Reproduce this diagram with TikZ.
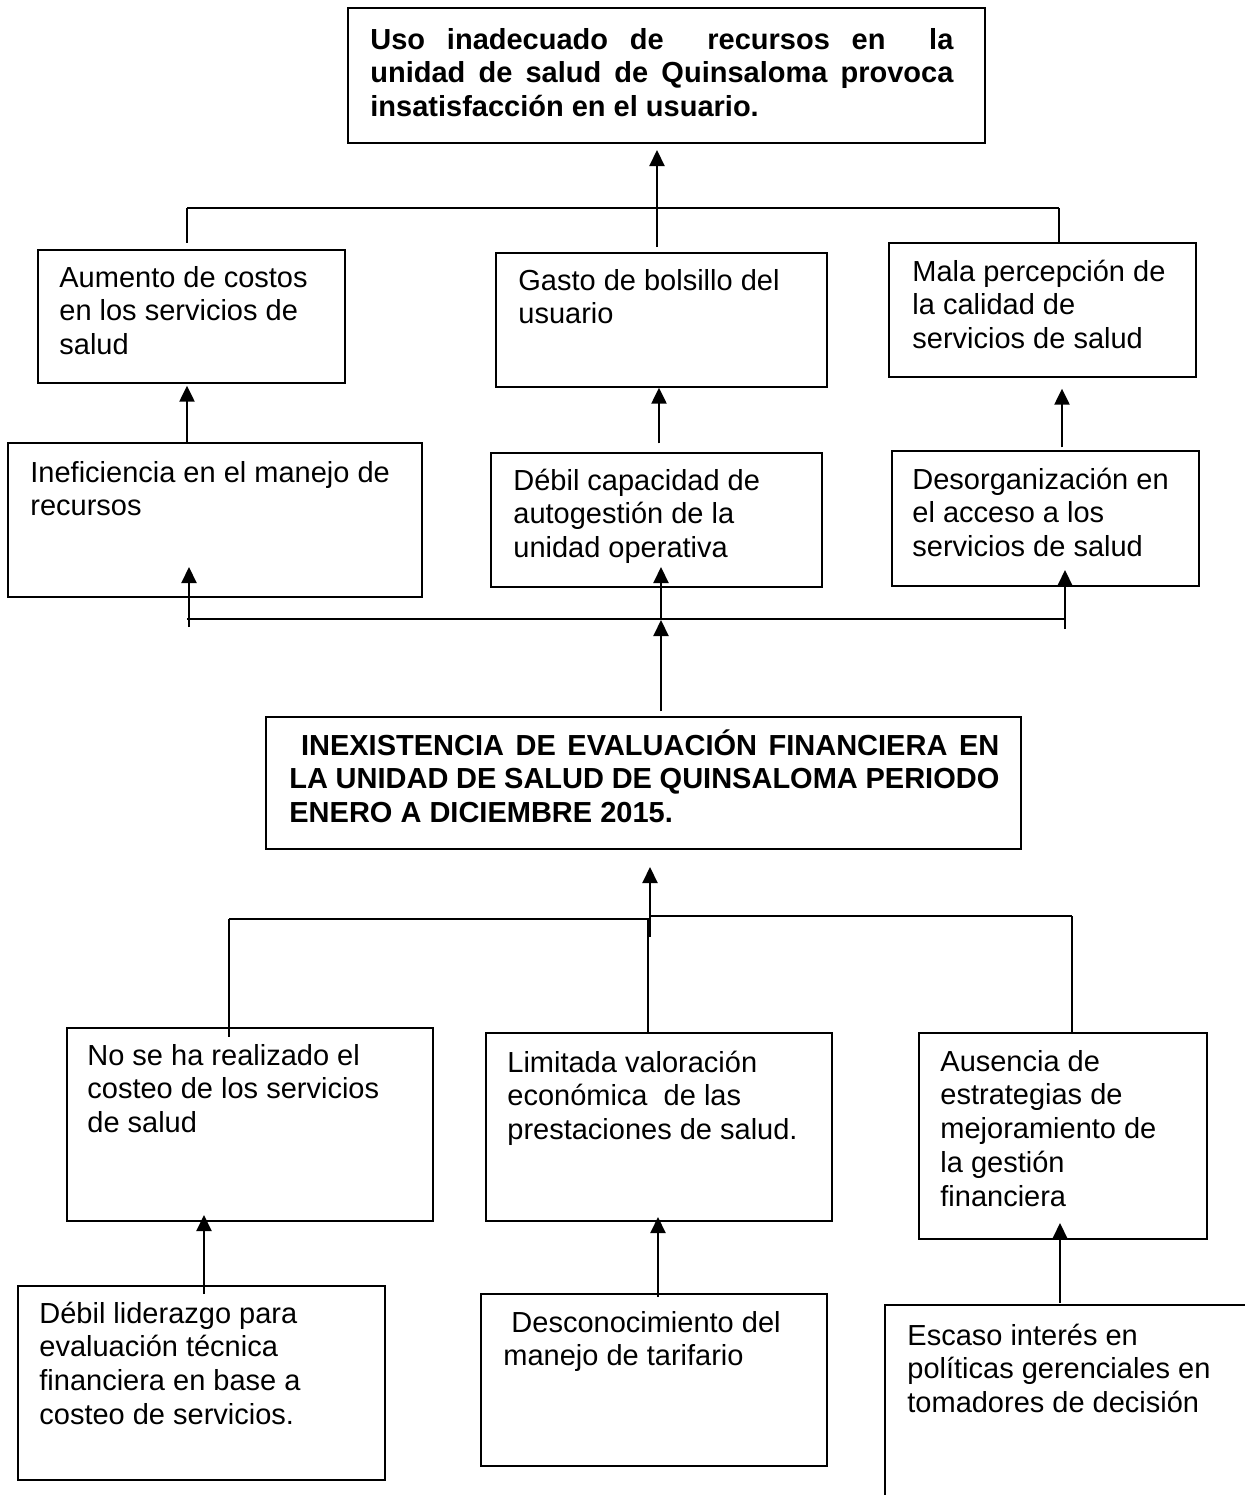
\documentclass[tikz,border=0pt]{standalone}
\usepackage{fontspec}
\setmainfont{Liberation Sans}
\usetikzlibrary{arrows.meta,calc,fit}
\newcommand{\boxtxt}[1]{\parbox[t]{330pt}{\raggedright #1}}
\begin{document}
\begin{tikzpicture}[x=0.5pt,y=-0.5pt,
  boxline/.style={draw, line width=0.65pt, inner sep=0pt},
  txt/.style={inner sep=0pt, anchor=base west, font={\fontsize{14.5pt}{16.9pt}\selectfont}},
  btxt/.style={txt, font={\fontsize{14.5pt}{16.9pt}\selectfont\bfseries}},
  bus/.style={line width=0.6pt},
  arr/.style={line width=1.1pt, -{Triangle[width=7.5pt,length=8pt]}},
]
\useasboundingbox (0,0) rectangle (1245,1495);
\clip (0,0) rectangle (1245,1495);
\fill[white] (0,0) rectangle (1245,1495);

% ---------- boxes ----------
\node[boxline, fit={(348,8) (985,143)}] (B0) {};
\node[boxline, fit={(38,250) (345,383)}] (A1) {};
\node[boxline, fit={(496,253) (827,387)}] (A2) {};
\node[boxline, fit={(889,243) (1196,377)}] (A3) {};
\node[boxline, fit={(8,443) (422,597)}] (B1) {};
\node[boxline, fit={(491,453) (822,587)}] (B2) {};
\node[boxline, fit={(892,451) (1199,586)}] (B3) {};
\node[boxline, fit={(266,717) (1021,849)}] (M) {};
\node[boxline, fit={(67,1028) (433,1221)}] (C1) {};
\node[boxline, fit={(486,1033) (832,1221)}] (C2) {};
\node[boxline, fit={(919,1033) (1207,1239)}] (C3) {};
\node[boxline, fit={(18,1286) (385,1480)}] (D1) {};
\node[boxline, fit={(481,1294) (827,1466)}] (D2) {};
\node[boxline, fit={(885,1305) (1300,1560)}] (D3) {};

% ---------- texts ----------
\node[btxt] (tB0) at (370,49) {\boxtxt{%
  \makebox[291.5pt][s]{Uso inadecuado de\ \ recursos en\ \ la}\\
  \makebox[291.5pt][s]{unidad de salud de Quinsaloma provoca}\\
  insatisfacción en el usuario.}};
\node[txt] (tA1) at (59,287) {\boxtxt{Aumento de costos\\en los servicios de\\salud}};
\node[txt] (tA2) at (518,290) {\boxtxt{Gasto de bolsillo del\\usuario}};
\node[txt] (tA3) at (912,281) {\boxtxt{Mala percepción de\\la calidad de\\servicios de salud}};
\node[txt] (tB1) at (30,482) {\boxtxt{Ineficiencia en el manejo de\\recursos}};
\node[txt] (tB2) at (513,490) {\boxtxt{Débil capacidad de\\autogestión de la\\unidad operativa}};
\node[txt] (tB3) at (912,489) {\boxtxt{Desorganización en\\el acceso a los\\servicios de salud}};
\node[btxt] (tM) at (289,755) {\boxtxt{%
  \makebox[355pt][s]{\ INEXISTENCIA DE EVALUACIÓN FINANCIERA EN}\\
  \makebox[355pt][s]{LA UNIDAD DE SALUD DE QUINSALOMA PERIODO}\\
  ENERO A DICIEMBRE 2015.}};
\node[txt] (tC1) at (87,1065) {\boxtxt{No se ha realizado el\\costeo de los servicios\\de salud}};
\node[txt] (tC2) at (507,1072) {\boxtxt{Limitada valoración\\económica\ \ de las\\prestaciones de salud.}};
\node[txt] (tC3) at (940,1071) {\boxtxt{Ausencia de\\estrategias de\\mejoramiento de\\la gestión\\financiera}};
\node[txt] (tD1) at (39,1323) {\boxtxt{Débil liderazgo para\\evaluación técnica\\financiera en base a\\costeo de servicios.}};
\node[txt] (tD2) at (503,1332) {\boxtxt{\ Desconocimiento del\\manejo de tarifario}};
\node[txt] (tD3) at (907,1345) {\boxtxt{Escaso interés en\\políticas gerenciales en\\tomadores de decisión}};

% ---------- connector points ----------
\coordinate (b1L) at (187,208);
\coordinate (b1R) at (1059,208);
\coordinate (b1Ld) at (187,243);
\coordinate (e1s) at (657,247);
\coordinate (e1t) at (657,150);
\coordinate (xa) at (187,0);
\coordinate (xb) at (659,0);
\coordinate (xc) at (1062,0);
\coordinate (b2L) at (187,619);
\coordinate (b2R) at (1065,619);
\coordinate (b2M) at (661,620);
\coordinate (f1s) at (189,627);
\coordinate (f1t) at (189,567);
\coordinate (f2t) at (661,567);
\coordinate (f3s) at (1065,629);
\coordinate (f3t) at (1065,570);
\coordinate (g0s) at (650,937);
\coordinate (g0t) at (650,867);
\coordinate (b3L) at (229,919);
\coordinate (b3M) at (650,919);
\coordinate (b3Mr) at (650,916);
\coordinate (b3R) at (1072,916);
\coordinate (g1e) at (229,1037);
\coordinate (g2s) at (648,919);
\coordinate (h1s) at (204,1294);
\coordinate (h1t) at (204,1215);
\coordinate (h2s) at (658,1297);
\coordinate (h2t) at (658,1217);
\coordinate (h3s) at (1060,1303);
\coordinate (h3t) at (1060,1223);

% ---------- effects (top) ----------
\draw[bus] (b1L) -- (b1R);
\draw[bus] (b1L) -- (b1Ld);
\draw[bus] (b1R) -- (b1R |- A3.north);
\draw[arr] (e1s) -- (e1t);
\draw[arr] (B1.north -| xa) -- ($(A1.south -| xa)+(0,2)$);
\draw[arr] ($(B2.north -| xb)+(0,-9)$) -- (A2.south -| xb);
\draw[arr] ($(B3.north -| xc)+(0,-3)$) -- ($(A3.south -| xc)+(0,11)$);

% ---------- middle ----------
\draw[bus] (b2L) -- (b2R);
\draw[arr] (f1s) -- (f1t);
\draw[arr] ($(M.north -| b2M)+(0,-5)$) -- (b2M);
\draw[arr] (b2M) -- (f2t);
\draw[arr] (f3s) -- (f3t);

% ---------- causes (bottom) ----------
\draw[arr] (g0s) -- (g0t);
\draw[bus] (b3L) -- (b3M);
\draw[bus] (b3Mr) -- (b3R);
\draw[bus] (b3L) -- (g1e);
\draw[bus] (g2s) -- (g2s |- C2.north);
\draw[bus] (b3R) -- (b3R |- C3.north);
\draw[arr] (h1s) -- (h1t);
\draw[arr] (h2s) -- (h2t);
\draw[arr] (h3s) -- (h3t);
\end{tikzpicture}
\end{document}
